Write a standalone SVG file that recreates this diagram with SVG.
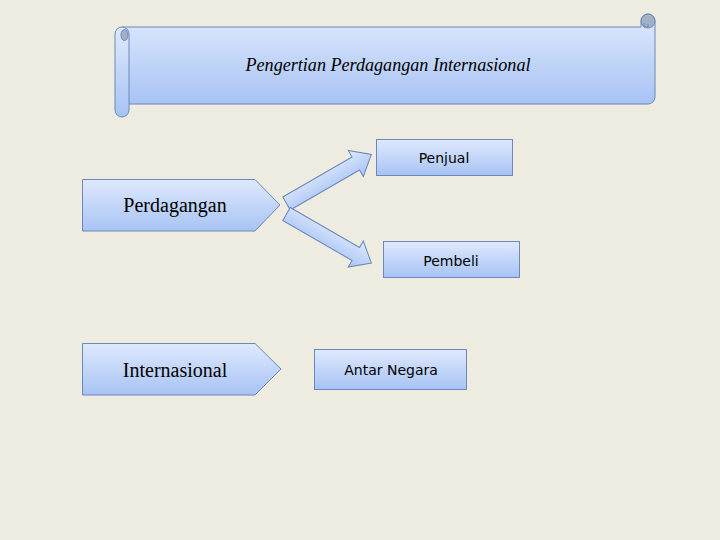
<svg xmlns="http://www.w3.org/2000/svg" width="720" height="540" viewBox="0 0 720 540">
  <defs>
    <linearGradient id="g" x1="0" y1="0" x2="0" y2="1">
      <stop offset="0" stop-color="#dfe9fd"/>
      <stop offset="1" stop-color="#a7c3f4"/>
    </linearGradient>
    <style>
      .shape{fill:url(#g);stroke:#6a88ba;stroke-width:1}
      .curl{fill:#a3b0c6;stroke:#6a88ba;stroke-width:1}
      .serif{font-family:"Liberation Serif","Times New Roman",serif;font-size:20px;fill:#000}
      .sans{font-family:"DejaVu Sans",Verdana,sans-serif;font-size:14px;fill:#000}
      .title{font-family:"Liberation Serif",serif;font-style:italic;font-size:18px;fill:#000}
    </style>
  </defs>
  <rect width="720" height="540" fill="#eeebe0"/>

  <g id="title-scroll">
    <path class="shape" d="M122,27 H641 V21 A7,7 0 0 1 655,21 V97 A7,7 0 0 1 648,104 H129"/>
    <circle class="curl" cx="648" cy="21" r="7"/>
    <path d="M644,23 V27 H648 V24" fill="none" stroke="#6a88ba" stroke-width="1"/>
    <rect class="shape" x="115" y="27" width="14" height="90" rx="7"/>
    <ellipse class="curl" cx="124.5" cy="35" rx="3.5" ry="5.5"/>
    <text class="title" x="388" y="71" text-anchor="middle" textLength="285" lengthAdjust="spacingAndGlyphs">Pengertian Perdagangan Internasional</text>
  </g>

  <g id="perdagangan">
    <path class="shape" d="M82.5,179.5 H255 L280,205 L255,231 H82.5 Z"/>
    <text class="serif" x="175" y="212" text-anchor="middle">Perdagangan</text>
  </g>

  <g id="penjual">
    <rect class="shape" x="376.5" y="139.5" width="136" height="36"/>
    <text class="sans" x="444" y="163" text-anchor="middle">Penjual</text>
  </g>

  <g id="pembeli">
    <rect class="shape" x="383.5" y="241.5" width="136" height="36"/>
    <text class="sans" x="451" y="266" text-anchor="middle">Pembeli</text>
  </g>

  <g id="internasional">
    <path class="shape" d="M82.5,343.5 H255 L281,369 L255,395 H82.5 Z"/>
    <text class="serif" x="175" y="377" text-anchor="middle">Internasional</text>
  </g>

  <g id="antar-negara">
    <rect class="shape" x="314.5" y="349.5" width="152" height="40"/>
    <text class="sans" x="391" y="375" text-anchor="middle">Antar Negara</text>
  </g>

  <g id="connectors">
    <path class="shape" transform="translate(286.5,203.5) rotate(-30)" d="M0,-7.5 H80 V-15 L98,0 L80,15 V7.5 H0 Z"/>
    <path class="shape" transform="translate(286.5,214) rotate(30)" d="M0,-7.5 H80 V-15 L98,0 L80,15 V7.5 H0 Z"/>
  </g>
</svg>
